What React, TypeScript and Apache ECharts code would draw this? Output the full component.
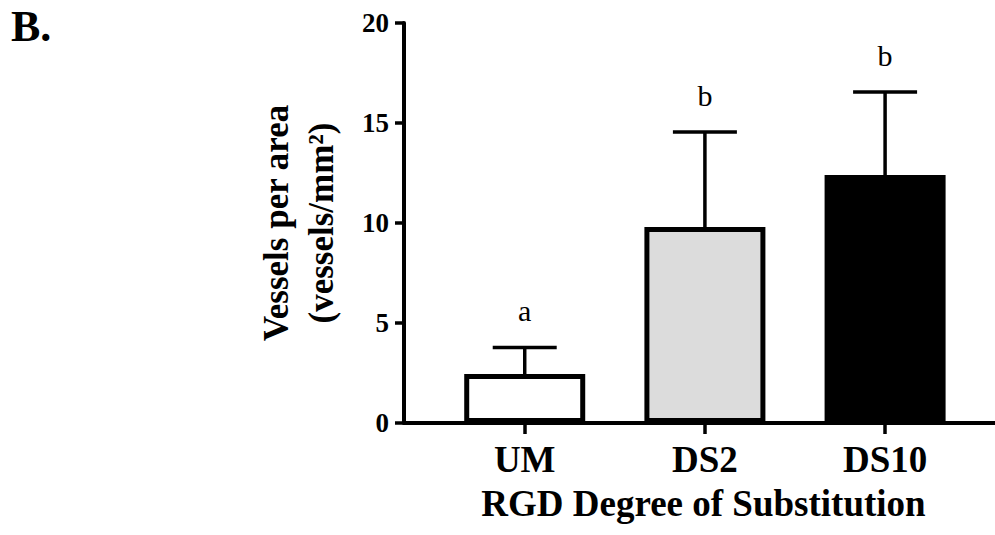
import React, { useEffect, useRef } from "react";
import * as echarts from "echarts";

const categories = ["UM", "DS2", "DS10"];
const means = [2.45, 9.8, 12.4];
const errors = [1.32, 4.75, 4.15];
const letters = ["a", "b", "b"];
const fills = ["#ffffff", "#dcdcdc", "#000000"];
const yTicks = [0, 5, 10, 15, 20];

const SERIF = "'Liberation Serif', 'Times New Roman', serif";

export default function App() {
  const ref = useRef<HTMLDivElement>(null);
  useEffect(() => {
    if (!ref.current) return;
    const chart = echarts.init(ref.current, undefined, { renderer: "svg" });
    const barData = means.map((m, i) => ({
      value: [i, m],
      itemStyle: { color: fills[i], borderColor: "#000", borderWidth: 5 },
    }));
    const errData = means.map((m, i) => [i, m, m + errors[i]]);
    chart.setOption({
      animation: false,
      backgroundColor: "#ffffff",
      textStyle: { fontFamily: SERIF },
      graphic: [
        {
          type: "text",
          left: 11,
          top: 4,
          style: { text: "B.", font: `bold 44px ${SERIF}`, fill: "#000" },
        },
      ],
      grid: { left: 404, right: 0, top: 23, bottom: 112, containLabel: false },
      xAxis: {
        type: "value",
        min: -0.67,
        max: 2.61,
        splitLine: { show: false },
        axisLine: { show: true, onZero: false, lineStyle: { color: "#000", width: 4 } },
        axisTick: {
          show: true,
          customValues: [0, 1, 2],
          length: 11,
          lineStyle: { color: "#000", width: 3.5 },
        },
        axisLabel: {
          customValues: [0, 1, 2],
          formatter: (v: number) => categories[Math.round(v)] ?? "",
          fontSize: 37,
          fontWeight: "bold",
          fontFamily: SERIF,
          color: "#000",
          margin: 18,
        },
        name: "RGD Degree of Substitution",
        nameLocation: "middle",
        nameGap: 62,
        nameTextStyle: {
          fontSize: 37,
          fontWeight: "bold",
          fontFamily: SERIF,
          color: "#000",
          padding: [0, 0, 0, 8],
        },
      },
      yAxis: {
        type: "value",
        min: yTicks[0],
        max: yTicks[yTicks.length - 1],
        interval: 5,
        splitLine: { show: false },
        axisLine: { show: true, onZero: false, lineStyle: { color: "#000", width: 4 } },
        axisTick: { show: true, length: 9, lineStyle: { color: "#000", width: 3.5 } },
        axisLabel: {
          fontSize: 27,
          fontWeight: "bold",
          fontFamily: SERIF,
          color: "#000",
          margin: 15,
        },
        name: "Vessels per area\n(vessels/mm²)",
        nameLocation: "middle",
        nameRotate: 90,
        nameGap: 60,
        nameTextStyle: {
          fontSize: 35,
          fontWeight: "bold",
          fontFamily: SERIF,
          color: "#000",
          lineHeight: 45,
        },
      },
      series: [
        {
          type: "bar",
          data: barData,
          barWidth: 121,
          z: 2,
        },
        {
          type: "custom",
          z: 1,
          data: errData,
          renderItem: (params: any, api: any) => {
            const x = api.value(0);
            const lo = api.coord([x, api.value(1)]);
            const hi = api.coord([x, api.value(2)]);
            const half = 32;
            const idx = params.dataIndex;
            return {
              type: "group",
              children: [
                {
                  type: "line",
                  shape: { x1: lo[0], y1: lo[1], x2: hi[0], y2: hi[1] },
                  style: { stroke: "#000", lineWidth: 3.5 },
                },
                {
                  type: "line",
                  shape: { x1: hi[0] - half, y1: hi[1], x2: hi[0] + half, y2: hi[1] },
                  style: { stroke: "#000", lineWidth: 3.5 },
                },
                {
                  type: "text",
                  x: hi[0],
                  y: hi[1] - 22,
                  style: {
                    text: letters[idx],
                    font: `30px ${SERIF}`,
                    fill: "#000",
                    align: "center",
                    verticalAlign: "bottom",
                  },
                },
              ],
            };
          },
        },
      ],
    });
    return () => chart.dispose();
  }, []);
  return (
    <div
      ref={ref}
      style={{ position: "fixed", left: 0, top: 0, width: 995, height: 535, background: "#fff" }}
    />
  );
}
